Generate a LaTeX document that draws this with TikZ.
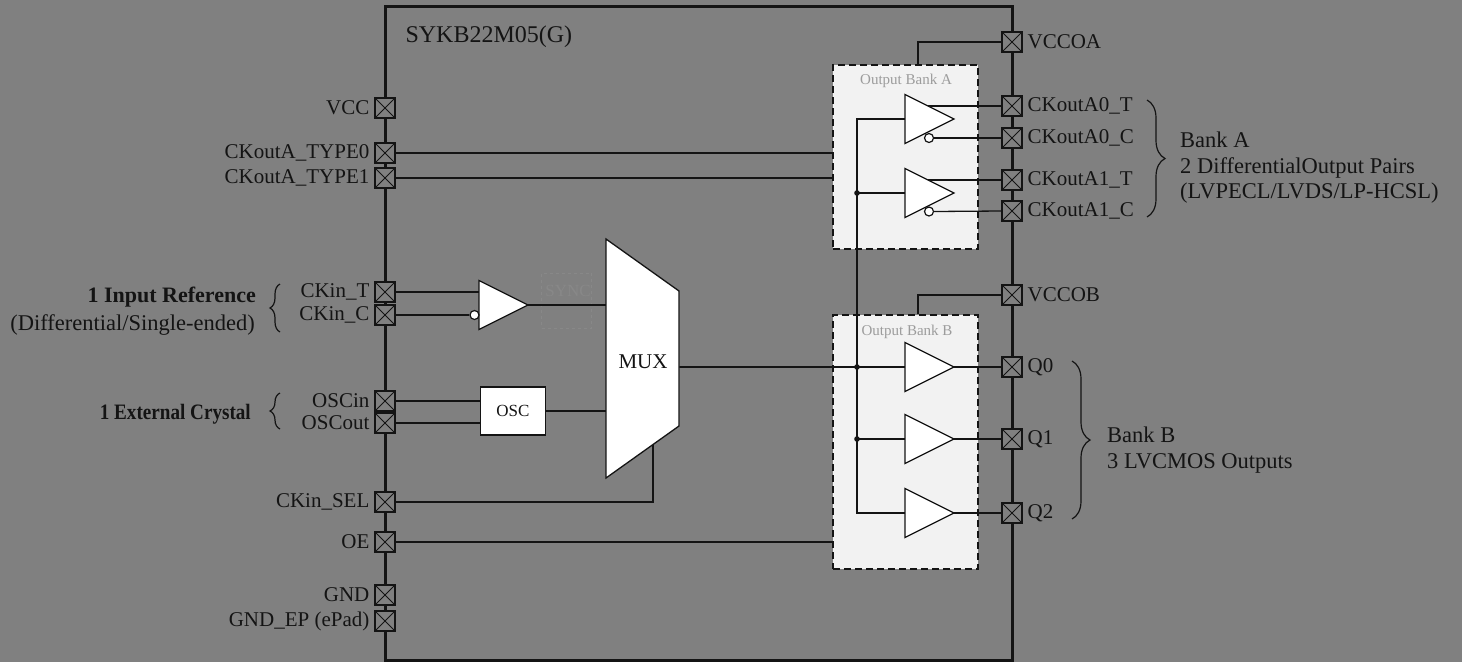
\documentclass[tikz,border=0pt]{standalone}
\usepackage{fontspec}
\setmainfont{Liberation Serif}
\usetikzlibrary{calc,decorations.pathreplacing}
\pgfdeclarelayer{back}
\pgfdeclarelayer{wires}
\pgfsetlayers{back,wires,main}
\definecolor{bggray}{HTML}{808080}
\definecolor{ink}{HTML}{141414}
\definecolor{bankfill}{HTML}{F2F2F2}
\definecolor{banktext}{HTML}{9C9C9C}
\definecolor{faint}{HTML}{888888}

\begin{document}
\begin{tikzpicture}
	[x=1pt,y=-1pt,every node/.style={text=ink,font=\fontsize{21}{24}\selectfont},
	every label/.style={label distance=1.5pt},
	buf/.pic={\draw[ink,fill=white,line width=1.3pt] (0,-24.5) -- (49,0) -- (0,24.5) -- cycle;
		\coordinate (-in) at (0,0); \coordinate (-out) at (49,0);}]
	\tikzstyle{pin} = [draw=ink, fill=bggray, line width=1.2pt, minimum size=20pt, inner sep=0pt,
		path picture={\draw[ink,line width=1pt] (path picture bounding box.south west) -- (path picture bounding box.north east)
			(path picture bounding box.north west) -- (path picture bounding box.south east);}];
	\tikzstyle{bub} = [circle, draw=ink, fill=white, line width=1.2pt, minimum size=9pt, inner sep=0pt];
	\tikzstyle{wire} = [ink, line width=1.3pt];
	\tikzstyle{bank} = [draw=ink, fill=bankfill, dash pattern=on 7pt off 4pt, line width=2.4pt, inner sep=0pt];
	\tikzstyle{banktitle} = [text=banktext, font=\fontsize{15}{18}\selectfont];
	\tikzstyle{brc} = [ink, line width=1.2pt, decorate, decoration={brace}];
	\tikzstyle{desc} = [inner sep=0pt, font=\fontsize{22.5}{25.5}\selectfont];
	\tikzstyle{bdesc} = [inner sep=0pt, font=\fontsize{22}{26}\selectfont\bfseries];
	
	\useasboundingbox (0,0) rectangle (1462,662);
	\begin{pgfonlayer}{back}
		\fill[bggray] (0,0) rectangle (1462,662);
		\draw[ink, line width=3pt] (385,6) rectangle (1012,660);
		\node[bank, minimum width=145pt, minimum height=184pt] (banka) at (905.5,157) {};
		\node[bank, minimum width=145pt, minimum height=254pt] (bankb) at (905.5,442) {};
		\node[draw=faint, dashed, line width=1pt, minimum width=50pt, minimum height=55pt] (sync) at (566.5,300.5) {};
		\node[text=faint, font=\fontsize{17}{20}\selectfont] (synct) at (568,291) {SYNC};
	\end{pgfonlayer}
	
	\node[anchor=base west, font=\fontsize{24}{28}\selectfont] (title) at (402,42) {SYKB22M05(G)};
	\node[banktitle] (bankat) at (906,81) {Output Bank A};
	\node[banktitle] (bankbt) at (907,332) {Output Bank B};
	
	% left pins
	\node[pin,label=left:VCC] (vcc) at (385,108) {};
	\node[pin,label=left:CKoutA\_TYPE0] (typ0) at (385,153) {};
	\node[pin,label=left:CKoutA\_TYPE1] (typ1) at (385,178) {};
	\node[pin,label=left:CKin\_T] (ckt) at (385,292) {};
	\node[pin,label=left:CKin\_C] (ckc) at (385,315) {};
	\node[pin,label=left:OSCin] (oscin) at (385,401) {};
	\node[pin,label=left:OSCout] (oscout) at (385,423) {};
	\node[pin,label=left:CKin\_SEL] (cksel) at (385,502) {};
	\node[pin,label=left:OE] (oe) at (385,542) {};
	\node[pin,label=left:GND] (gnd) at (385,595) {};
	\node[pin,label=left:GND\_EP (ePad)] (gndep) at (385,621) {};
	
	% right pins
	\node[pin,label=right:VCCOA] (vccoa) at (1012,42) {};
	\node[pin,label=right:CKoutA0\_T] (a0t) at (1012,106) {};
	\node[pin,label=right:CKoutA0\_C] (a0c) at (1012,138) {};
	\node[pin,label=right:CKoutA1\_T] (a1t) at (1012,180) {};
	\node[pin,label=right:CKoutA1\_C] (a1c) at (1012,211) {};
	\node[pin,label=right:VCCOB] (vccob) at (1012,295) {};
	\node[pin,label=right:Q0] (q0) at (1012,367) {};
	\node[pin,label=right:Q1] (q1) at (1012,439) {};
	\node[pin,label=right:Q2] (q2) at (1012,513) {};
	
	% input stage
	\pic (ckbuf) at (479,305) {buf};
	\node[bub] (ckbub) at (474.5,315) {};
	\node[draw=ink, fill=white, line width=1.3pt, minimum width=65pt, minimum height=48pt, inner sep=0pt,
		font=\fontsize{17}{20}\selectfont] (osc) at (513,411) {OSC};
	\draw[ink, fill=white, line width=1.3pt] (606,239) -- (679,291) -- (679,426) -- (606,478) -- cycle;
	\node (mux) at (643,362) {MUX};
	\coordinate (muxl) at (606,358);
	\coordinate (muxr) at (679,367);
	\coordinate (muxb) at (653,444.5);
	
	% output buffers
	\pic (ba0) at (905,119) {buf};
	\pic (ba1) at (905,193) {buf};
	\pic (bb0) at (905,367) {buf};
	\pic (bb1) at (905,439) {buf};
	\pic (bb2) at (905,513) {buf};
	\node[bub] (ba0c) at (929,138) {};
	\node[bub] (ba1c) at (929,211.5) {};
	\coordinate (bus) at (857,367);
	
	\begin{pgfonlayer}{wires}
		\draw[wire] (typ0.east) -- (typ0.east -| banka.west);
		\draw[wire] (typ1.east) -- (typ1.east -| banka.west);
		\draw[wire] (ckt.east) -- (ckt.east -| ckbuf-in);
		\draw[wire] (ckc.east) -- (ckbub.west);
		\draw[wire] (ckbuf-out) -- (ckbuf-out -| muxl);
		\draw[wire] (oscin.east) -- (oscin.east -| osc.west);
		\draw[wire] (oscout.east) -- (oscout.east -| osc.west);
		\draw[wire] (osc.east) -- (osc.east -| muxl);
		\draw[wire] (cksel.east) -| (muxb);
		\draw[wire] (oe.east) -- (oe.east -| bankb.west);
		\draw[wire] (muxr) -- (bb0-in);
		\draw[wire] (ba0-in) -- (ba0-in -| bus) -- (bb2-in -| bus) -- (bb2-in);
		\draw[wire] (bus |- ba1-in) -- (ba1-in);
		\draw[wire] (bus |- bb1-in) -- (bb1-in);
		\draw[wire] (vccoa.west) -| ([xshift=12.5pt]banka.north);
		\draw[wire] (vccob.west) -| ([xshift=12.5pt]bankb.north);
		\draw[wire] (a0t.west) -- (a0t.west -| ba0-in);
		\draw[wire] (a1t.west) -- (a1t.west -| ba1-in);
		\draw[wire] (a0c.west) -- (ba0c.east);
		\draw[wire] (a1c.west) -- (ba1c.east);
		\draw[wire] (bb0-out) -- (q0.west);
		\draw[wire] (bb1-out) -- (q1.west);
		\draw[wire] (bb2-out) -- (q2.west);
	\end{pgfonlayer}
	
	\fill[ink] (bus |- ba1-in) circle (2.8);
	\fill[ink] (bus) circle (2.8);
	\fill[ink] (bus |- bb1-in) circle (2.8);
	
	% braces and notes
	\draw[brc, decoration={amplitude=10pt}] (280,332) -- (280,284);
	\draw[brc, decoration={amplitude=10pt}] (280,429) -- (280,393);
	\draw[brc, decoration={amplitude=18pt}] (1147,100) -- (1147,217);
	\draw[brc, decoration={amplitude=18pt}] (1072,361) -- (1072,519);
	\node[bdesc, anchor=east] (inref) at (256,297) {1 Input Reference};
	\node[desc, anchor=east] (inrefs) at (255,325) {(Differential/Single-ended)};
	\node[bdesc, anchor=east] (xtal) at (251,414) {\scalebox{0.87}[1]{1 External Crystal}};
	\node[desc, anchor=west, align=left] (bankad) at (1180,168) {Bank A\\2 DifferentialOutput Pairs\\(LVPECL/LVDS/LP-HCSL)};
	\node[desc, anchor=west, align=left] (bankbd) at (1107,450) {Bank B\\3 LVCMOS Outputs};
\end{tikzpicture}
\end{document}
